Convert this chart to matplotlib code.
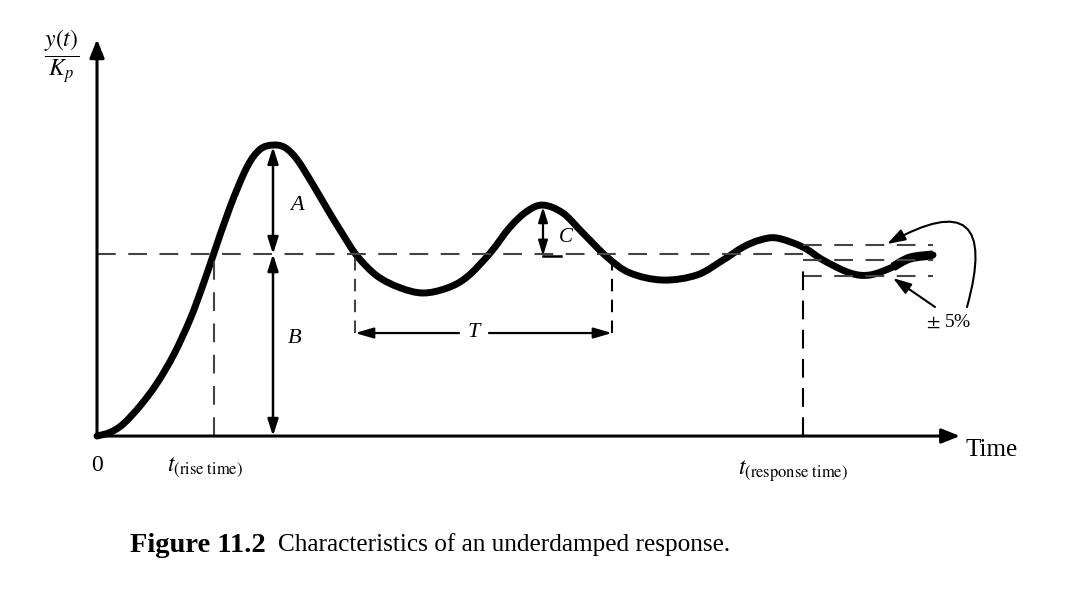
import matplotlib
matplotlib.use("Agg")
import matplotlib.pyplot as plt
from matplotlib.path import Path
from matplotlib.patches import PathPatch

# ---------------- data (time units, y/Kp units) ----------------
t_curve = [0.00, 0.13, 0.26, 0.43, 0.60, 0.77, 0.93, 1.05, 1.16, 1.33, 1.50, 1.63, 1.76,
           1.88, 2.00, 2.15, 2.30, 2.45, 2.60, 2.80, 3.03, 3.26, 3.50, 3.70, 3.93,
           4.13, 4.30, 4.46, 4.66, 4.86, 5.10, 5.33, 5.66, 6.00, 6.26, 6.46, 6.63,
           6.80, 7.06, 7.26, 7.53, 7.73, 7.96, 8.13, 8.36]
y_curve = [0.000, 0.020, 0.065, 0.165, 0.290, 0.450, 0.640, 0.815, 0.990, 1.258, 1.478, 1.575, 1.599,
           1.585, 1.520, 1.390, 1.250, 1.115, 0.990, 0.880, 0.815, 0.786, 0.813, 0.874, 1.005,
           1.148, 1.235, 1.269, 1.225, 1.115, 0.984, 0.896, 0.857, 0.885, 0.967, 1.038, 1.077,
           1.088, 1.038, 0.967, 0.896, 0.885, 0.929, 0.978, 0.995]

steady_level = 1.0
band_upper = 1.05
band_lower = 0.88
t_rise = 1.17
t_peak = 1.76
y_peak = 1.599
t_second_peak = 4.46
y_second_peak = 1.269
t_period_start = 2.58
t_period_end = 5.15
t_response = 7.06
t_end = 8.36

time_label = "Time"
origin_label = "0"
rise_label = r"$t_{\mathrm{(rise\ time)}}$"
response_label = r"$t_{\mathrm{(response\ time)}}$"
ylabel_text = r"$\dfrac{y(t)}{K_p}$"
band_label = r"$\pm$ 5%"
caption_bold = "Figure 11.2"
caption_rest = "Characteristics of an underdamped response."

# ---------------- figure ----------------
plt.rcParams["font.family"] = ["Liberation Serif", "DejaVu Serif"]
plt.rcParams["mathtext.fontset"] = "stix"

W, H = 1073, 598
fig = plt.figure(figsize=(W / 100, H / 100), dpi=100)
ax = fig.add_axes([0, 0, 1, 1])
ax.set_xlim(-0.97, 9.76)
ax.set_ylim(-0.890, 2.396)
ax.axis("off")

K = "black"
G = "#444444"


def smooth_path(xs, ys):
    """Cubic Bezier path through the given points (Catmull-Rom tangents)."""
    pts = list(zip(xs, ys))
    n = len(pts)
    verts = [pts[0]]
    codes = [Path.MOVETO]
    for i in range(n - 1):
        p0 = pts[i - 1] if i > 0 else pts[i]
        p1 = pts[i]
        p2 = pts[i + 1]
        p3 = pts[i + 2] if i + 2 < n else pts[i + 1]
        c1 = (p1[0] + (p2[0] - p0[0]) / 6, p1[1] + (p2[1] - p0[1]) / 6)
        c2 = (p2[0] - (p3[0] - p1[0]) / 6, p2[1] - (p3[1] - p1[1]) / 6)
        verts += [c1, c2, p2]
        codes += [Path.CURVE4] * 3
    return Path(verts, codes)


# axes with arrows
axis_arrow = dict(arrowstyle="-|>,head_length=0.55,head_width=0.22", color=K, lw=2.2,
                  mutation_scale=20, shrinkA=0, shrinkB=0)
ax.annotate("", xy=(0, 2.18), xytext=(0, 0), arrowprops=axis_arrow)
ax.annotate("", xy=(8.63, 0), xytext=(-0.01, 0), arrowprops=axis_arrow)

# dashed reference lines
dash = dict(color=G, lw=1.5, linestyle=(0, (9, 6)))
ax.plot([0, t_response], [steady_level, steady_level], **dash)
ax.plot([t_response, t_end], [band_upper, band_upper], **dash)
ax.plot([t_response, t_end], [steady_level - 0.03, steady_level - 0.03], **dash)
ax.plot([t_response, t_end], [band_lower, band_lower], **dash)
ax.plot([t_rise, t_rise], [0, steady_level], **dash)
ax.plot([t_response, t_response], [0, steady_level - 0.05], color=K, lw=1.5, linestyle=(0, (9, 5)))
ax.plot([t_period_start, t_period_start], [steady_level - 0.02, 0.52], color=G, lw=1.5,
        linestyle=(0, (6, 4)))
ax.plot([t_period_end, t_period_end], [steady_level - 0.02, 0.52], color=K, lw=1.5,
        linestyle=(0, (6, 4)))

# A and B double arrows
dbl = dict(arrowstyle="<|-|>,head_length=0.5,head_width=0.16", color=K, lw=1.8,
           mutation_scale=20, shrinkA=0, shrinkB=0)
ax.annotate("", xy=(t_peak, y_peak - 0.01), xytext=(t_peak, steady_level), arrowprops=dbl)
ax.annotate("", xy=(t_peak, steady_level), xytext=(t_peak, 0), arrowprops=dbl)

# C double arrow
dblc = dict(arrowstyle="<|-|>,head_length=0.45,head_width=0.14", color=K, lw=1.6,
            mutation_scale=20, shrinkA=0, shrinkB=0)
ax.annotate("", xy=(t_second_peak, y_second_peak - 0.01), xytext=(t_second_peak, steady_level - 0.01),
            arrowprops=dblc)
ax.plot([t_second_peak, t_second_peak + 0.18], [steady_level - 0.01, steady_level - 0.01], color=K, lw=1.8)

# period arrows
T_y = 0.566
one = dict(arrowstyle="-|>,head_length=0.55,head_width=0.16", color=K, lw=1.6,
           mutation_scale=20, shrinkA=0, shrinkB=0)
ax.annotate("", xy=(t_period_start, T_y), xytext=(3.62, T_y), arrowprops=one)
ax.annotate("", xy=(t_period_end, T_y), xytext=(3.92, T_y), arrowprops=one)

# response curve
ax.add_patch(PathPatch(smooth_path(t_curve, y_curve), fill=False, edgecolor=K, lw=5.0,
                       capstyle="round", joinstyle="round"))
ax.add_patch(PathPatch(smooth_path(t_curve[-3:], y_curve[-3:]), fill=False, edgecolor=K, lw=6.5,
                       capstyle="butt"))

# +-5% arrows
ax.annotate("", xy=(7.90, 1.055), xytext=(8.70, 0.709),
            arrowprops=dict(arrowstyle="-|>,head_length=0.55,head_width=0.18", color=K, lw=1.5,
                            mutation_scale=20, shrinkA=0, shrinkB=0,
                            connectionstyle="arc3,rad=1.2"))
ax.annotate("", xy=(7.96, 0.868), xytext=(8.38, 0.709),
            arrowprops=dict(arrowstyle="-|>,head_length=0.55,head_width=0.18", color=K, lw=1.5,
                            mutation_scale=20, shrinkA=0, shrinkB=0))

# labels
ax.text(1.93, 1.269, "A", fontsize=16, style="italic", ha="left", va="center")
ax.text(1.91, 0.538, "B", fontsize=16, style="italic", ha="left", va="center")
ax.text(4.62, 1.09, "C", fontsize=15, style="italic", ha="left", va="center")
ax.text(3.77, T_y + 0.005, "T", fontsize=16, style="italic", ha="center", va="center")
ax.text(8.52, 0.626, band_label, fontsize=14, ha="center", va="center")
ax.text(-0.35, 2.08, ylabel_text, fontsize=17, ha="center", va="center")
ax.text(0.0, -0.16, origin_label, fontsize=17, ha="center", va="center")
ax.text(8.68, -0.075, time_label, fontsize=18, ha="left", va="center")
ax.text(0.70, -0.17, rise_label, fontsize=17, ha="left", va="center")
ax.text(6.41, -0.195, response_label, fontsize=17, ha="left", va="center")

# caption
cy = 1 - 545 / H
t1 = fig.text(130 / W, cy, caption_bold, fontsize=20.5, fontweight="bold", ha="left", va="center")
fig.canvas.draw()
bb = t1.get_window_extent()
fig.text((bb.x1 + 12) / W, cy, caption_rest, fontsize=18.2, ha="left", va="center")

fig.savefig("out.png", dpi=100)
